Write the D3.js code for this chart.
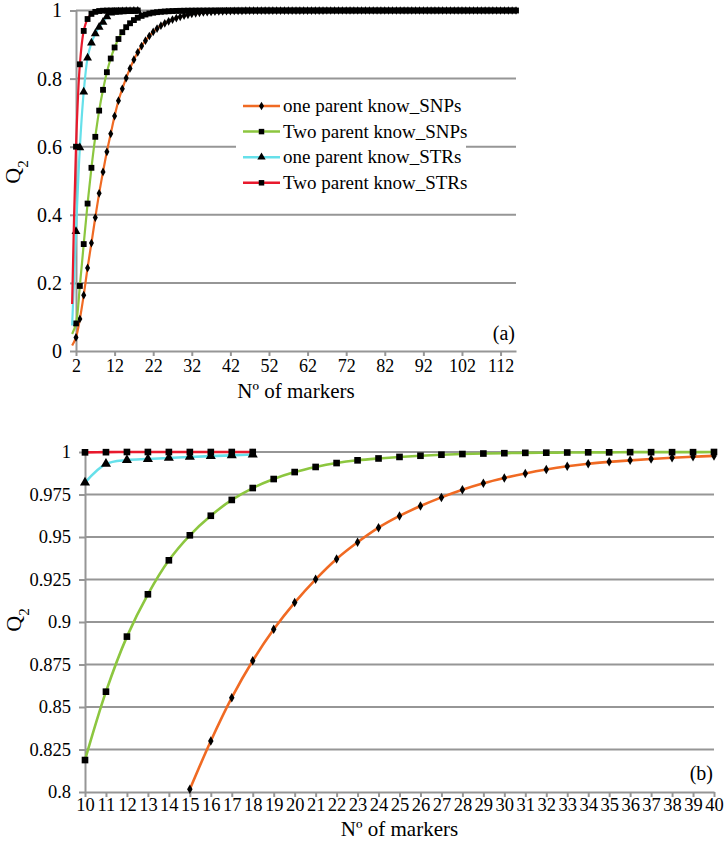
<!DOCTYPE html>
<html>
<head>
<meta charset="utf-8">
<script src="https://cdn.jsdelivr.net/npm/d3@7"></script>
<style>
  body { margin: 0; background: #fff; }
  svg text { font-family: "Liberation Serif", "Tinos", "Times New Roman", "DejaVu Serif", serif; }
</style>
</head>
<body>
<svg id="chart" width="726" height="842"></svg>
<script>
// number of markers (categories); n = 1 is the short stub left of the axis
const snpCounts = d3.range(1, 117);
const strCounts = d3.range(1, 19);

const oneParentSNPs = [
  0.016, 0.040, 0.094, 0.164, 0.244, 0.317, 0.392, 0.463, 0.526, 0.585,
  0.638, 0.690, 0.735, 0.770, 0.8016, 0.8300, 0.8555, 0.8772, 0.8957, 0.9114,
  0.9251, 0.9371, 0.9469, 0.9555, 0.9624, 0.9682, 0.9733, 0.9778, 0.9816, 0.9847,
  0.9874, 0.9897, 0.9916, 0.9931, 0.9942, 0.9951, 0.9959, 0.9966, 0.9972, 0.9977,
  0.9981, 0.9984, 0.9987, 0.9989, 0.9991, 0.9993, 0.9994, 0.9995, 0.9996, 0.9997,
  0.9997, 0.9998, 0.9998, 0.9998, 0.9999, 0.9999, 0.9999, 0.9999, 0.9999, 0.9999,
  0.9999, 0.9999, 0.9999, 0.9999, 0.9999, 0.9999, 1, 1, 1, 1,
  1, 1, 1, 1, 1, 1, 1, 1, 1, 1,
  1, 1, 1, 1, 1, 1, 1, 1, 1, 1,
  1, 1, 1, 1, 1, 1, 1, 1, 1, 1,
  1, 1, 1, 1, 1, 1, 1, 1, 1, 1,
  1, 1, 1, 1, 1, 1
];

const twoParentSNPs = [
  0.050, 0.081, 0.191, 0.314, 0.433, 0.538, 0.629, 0.706, 0.767, 0.8188,
  0.8590, 0.8914, 0.9163, 0.9363, 0.9510, 0.9625, 0.9718, 0.9788, 0.9841, 0.9882,
  0.9912, 0.9935, 0.9951, 0.9962, 0.9971, 0.9978, 0.9984, 0.9988, 0.9991, 0.9993,
  0.9995, 0.9996, 0.9997, 0.9998, 0.9998, 0.9999, 0.9999, 0.9999, 0.9999, 1,
  1, 1, 1, 1, 1, 1, 1, 1, 1, 1,
  1, 1, 1, 1, 1, 1, 1, 1, 1, 1,
  1, 1, 1, 1, 1, 1, 1, 1, 1, 1,
  1, 1, 1, 1, 1, 1, 1, 1, 1, 1,
  1, 1, 1, 1, 1, 1, 1, 1, 1, 1,
  1, 1, 1, 1, 1, 1, 1, 1, 1, 1,
  1, 1, 1, 1, 1, 1, 1, 1, 1, 1,
  1, 1, 1, 1, 1, 1
];

const oneParentSTRs = [
  0.075, 0.351, 0.597, 0.761, 0.861, 0.905, 0.932, 0.951, 0.966, 0.982,
  0.993, 0.9953, 0.9959, 0.9965, 0.9971, 0.9976, 0.9980, 0.9985
];

const twoParentSTRs = [
  0.138, 0.600, 0.842, 0.940, 0.975, 0.990, 0.996, 0.9985, 0.9994, 0.9998,
  0.9999, 1, 1, 1, 1, 1, 1, 1
];

const seriesNames = ["one parent know_SNPs", "Two parent know_SNPs", "one parent know_STRs", "Two parent know_STRs"];
const seriesColors = ["#f06a23", "#8cc63f", "#66e0ea", "#e8192c"];

const topYTicks = [0, 0.2, 0.4, 0.6, 0.8, 1];
const topXTicks = [2, 12, 22, 32, 42, 52, 62, 72, 82, 92, 102, 112];
const bottomYTicks = [0.8, 0.825, 0.85, 0.875, 0.9, 0.925, 0.95, 0.975, 1];
const bottomXTicks = d3.range(10, 41);

const serif = '"Liberation Serif", Tinos, "Times New Roman", "DejaVu Serif", serif';
const grey = "#969696";
const symbols = [d3.symbolDiamond, d3.symbolSquare, d3.symbolTriangle, d3.symbolSquare];

const series = [
  {counts: snpCounts, values: oneParentSNPs},
  {counts: snpCounts, values: twoParentSNPs},
  {counts: strCounts, values: oneParentSTRs},
  {counts: strCounts, values: twoParentSTRs}
].map((s, i) => ({
  name: seriesNames[i],
  color: seriesColors[i],
  symbol: symbols[i],
  points: s.counts.map((n, j) => ({n, q: s.values[j]}))
}));

const svg = d3.select("#chart");

function drawPanel(p) {
  const x = d3.scaleLinear().domain(p.xDomain).range([p.left, p.right]);
  const y = d3.scaleLinear().domain(p.yDomain).range([p.bottom, p.top]);
  const g = svg.append("g");

  // horizontal gridlines
  g.append("g").selectAll("line")
    .data(p.yTicks.filter(d => d !== p.yDomain[0]))
    .join("line")
    .attr("x1", p.left).attr("x2", p.right)
    .attr("y1", d => y(d)).attr("y2", d => y(d))
    .attr("stroke", grey).attr("stroke-width", 2);

  const yAxis = g.append("g")
    .attr("transform", `translate(${p.left},0)`)
    .call(d3.axisLeft(y).tickValues(p.yTicks).tickFormat(d3.format("~f"))
      .tickSize(6).tickPadding(p.yPad).tickSizeOuter(0));

  const xAxis = g.append("g")
    .attr("transform", `translate(0,${p.bottom})`)
    .call(d3.axisBottom(x).tickValues(p.xTicks).tickFormat(d3.format("d"))
      .tickSize(5).tickPadding(p.xPad).tickSizeOuter(0));

  yAxis.attr("font-size", p.yFont);
  xAxis.attr("font-size", p.xFont);
  [yAxis, xAxis].forEach(a => {
    a.attr("font-family", serif);
    a.select(".domain").attr("stroke", grey).attr("stroke-width", 2);
    a.selectAll(".tick line").attr("stroke", grey).attr("stroke-width", 2);
    a.selectAll(".tick text").attr("fill", "#000");
  });

  const line = d3.line()
    .x(d => x(d.n))
    .y(d => y(d.q))
    .curve(d3.curveCatmullRom.alpha(0.5));

  series.forEach(s => {
    const pts = s.points.filter(p.keep);
    g.append("path")
      .datum(pts)
      .attr("fill", "none")
      .attr("stroke", s.color)
      .attr("stroke-width", p.lineWidth)
      .attr("d", line);

    g.append("g").selectAll("path")
      .data(pts.filter(d => d.n >= p.xDomain[0]))
      .join("path")
      .attr("transform", d => `translate(${x(d.n)},${y(d.q)})`)
      .attr("d", d3.symbol().type(s.symbol).size(s.symbol === d3.symbolDiamond ? p.diamondSize : p.markSize))
      .attr("fill", "#000");
  });

  // axis title
  g.append("text")
    .attr("x", (p.left + p.right) / 2)
    .attr("y", p.titleY)
    .attr("text-anchor", "middle")
    .attr("font-family", serif)
    .attr("font-size", 21)
    .text("Nº of markers");

  const q = g.append("text")
    .attr("transform", `translate(${p.qX},${p.qY}) rotate(-90)`)
    .attr("text-anchor", "middle")
    .attr("font-family", serif)
    .attr("font-size", 22);
  q.append("tspan").text("Q");
  q.append("tspan").attr("baseline-shift", "sub").attr("font-size", 15).text("2");

  g.append("text")
    .attr("x", p.right - 1)
    .attr("y", p.tagY)
    .attr("text-anchor", "end")
    .attr("font-family", serif)
    .attr("font-size", 20)
    .text(p.tag);

  return g;
}

// (a) full range
const panelA = drawPanel({
  left: 76, right: 516, top: 10.5, bottom: 351,
  xDomain: [2, 116], yDomain: [0, 1],
  xTicks: topXTicks, yTicks: topYTicks,
  xPad: 3, yPad: 8, xFont: 18, yFont: 20,
  lineWidth: 2.2, markSize: 34, diamondSize: 22,
  keep: d => true,
  titleY: 398, qX: 20, qY: 172, tagY: 340, tag: "(a)"
});

// legend
const legend = panelA.append("g");
legend.append("rect")
  .attr("x", 236).attr("y", 93).attr("width", 230).attr("height", 104)
  .attr("fill", "#fff");
series.forEach((s, i) => {
  const ly = 106 + i * 25.6;
  legend.append("line")
    .attr("x1", 243).attr("x2", 280).attr("y1", ly).attr("y2", ly)
    .attr("stroke", s.color).attr("stroke-width", 2.5);
  legend.append("path")
    .attr("transform", `translate(261.5,${ly})`)
    .attr("d", d3.symbol().type(s.symbol).size(s.symbol === d3.symbolDiamond ? 22 : 30))
    .attr("fill", "#000");
  legend.append("text")
    .attr("x", 283).attr("y", ly).attr("dy", "0.33em")
    .attr("font-family", serif).attr("font-size", 19)
    .text(s.name);
});

// (b) zoom on the upper part
drawPanel({
  left: 85, right: 714, top: 452, bottom: 792,
  xDomain: [10, 40], yDomain: [0.8, 1],
  xTicks: bottomXTicks, yTicks: bottomYTicks,
  xPad: 1, yPad: 8, xFont: 18.5, yFont: 18.5,
  lineWidth: 2.6, markSize: 44, diamondSize: 26,
  keep: d => d.n >= 10 && d.n <= 40 && d.q >= 0.8,
  titleY: 836, qX: 21, qY: 620, tagY: 780, tag: "(b)"
});
</script>
</body>
</html>
